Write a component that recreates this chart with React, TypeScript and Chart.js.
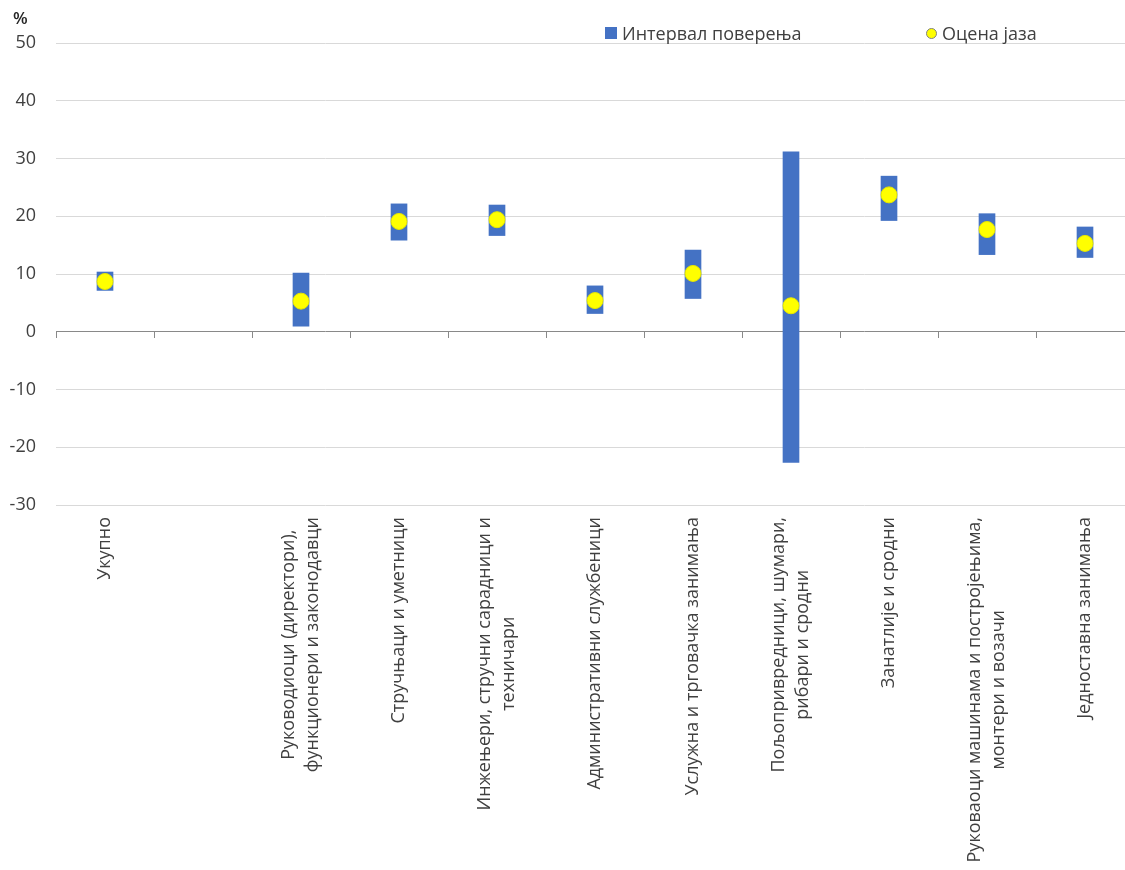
import React, { useEffect, useRef } from "react";
import { Chart, registerables } from "chart.js";

Chart.register(...registerables);

const categories: (string | string[])[] = [
  "Укупно",
  "",
  ["Руководиоци (директори),", "функционери и законодавци"],
  "Стручњаци и уметници",
  ["Инжењери, стручни сарадници и", "техничари"],
  "Административни службеници",
  "Услужна и трговачка занимања",
  ["Пољопривредници, шумари,", "рибари и сродни"],
  "Занатлије и сродни",
  ["Руковаоци машинама и постројењима,", "монтери и возачи"],
  "Једноставна занимања",
];

const intervalLow: (number | null)[] = [7.1, null, 0.9, 15.8, 16.6, 3.1, 5.7, -22.7, 19.2, 13.3, 12.8];
const intervalHigh: (number | null)[] = [10.4, null, 10.2, 22.2, 22.0, 8.0, 14.2, 31.2, 27.0, 20.5, 18.2];
const gapEstimate: (number | null)[] = [8.7, null, 5.3, 19.1, 19.4, 5.4, 10.1, 4.5, 23.7, 17.7, 15.3];

const yTicks = { min: -30, max: 50, step: 10 };

const seriesNames = ["Интервал поверења", "Оцена јаза"];

const FONT = '"Open Sans", "Noto Sans", sans-serif';
const TEXT = "#404040";

const labelPlugin = {
  id: "rotatedLabels",
  afterDraw(chart: any) {
    const xs = chart.scales.x;
    const ctx = chart.ctx;
    const lineH = 24;
    ctx.save();
    ctx.font = `18px ${FONT}`;
    ctx.fillStyle = TEXT;
    categories.forEach((lab, i) => {
      const lines = Array.isArray(lab) ? lab : [lab];
      if (!lines[0]) return;
      const W = Math.max(...lines.map((l) => ctx.measureText(l).width));
      const cx = xs.getPixelForValue(i);
      const n = lines.length;
      lines.forEach((line, j) => {
        const px = cx + (j - (n - 1) / 2) * lineH;
        const py = chart.chartArea.bottom + 12 + W / 2;
        ctx.save();
        ctx.translate(px, py);
        ctx.rotate(-Math.PI / 2);
        ctx.textAlign = "center";
        ctx.textBaseline = "middle";
        ctx.fillText(line, 0, 0);
        ctx.restore();
      });
    });
    ctx.restore();
  },
};

export default function App() {
  const ref = useRef<HTMLCanvasElement>(null);

  useEffect(() => {
    if (!ref.current) return;
    const labels = categories.map((_, i) => String(i));
    const chart = new Chart(ref.current, {
      type: "bar",
      data: {
        labels,
        datasets: [
          {
            type: "bar",
            label: seriesNames[0],
            data: intervalLow.map((lo, i) =>
              lo === null || intervalHigh[i] === null ? null : [lo, intervalHigh[i] as number]
            ) as any,
            backgroundColor: "#4472C4",
            borderWidth: 0,
            barPercentage: 0.17,
            categoryPercentage: 1,
            order: 1,
          },
          {
            type: "line",
            label: seriesNames[1],
            data: gapEstimate as any,
            showLine: false,
            pointRadius: 8,
            pointHoverRadius: 8,
            pointBackgroundColor: "#FFFF00",
            pointBorderColor: "#E6E600",
            pointBorderWidth: 1,
            order: 0,
          },
        ],
      },
      options: {
        responsive: true,
        maintainAspectRatio: false,
        animation: false,
        devicePixelRatio: 1,
        layout: { autoPadding: false, padding: { top: 43, left: 0, right: 0, bottom: 0 } },
        plugins: {
          legend: { display: false },
          tooltip: { enabled: false },
        },
        scales: {
          x: {
            type: "category",
            grid: { display: false },
            border: { display: false },
            ticks: { display: false },
            afterFit: (s: any) => {
              s.height = 365;
            },
          },
          x2: {
            type: "category",
            labels,
            position: { y: 0 } as any,
            grid: {
              offset: true,
              drawOnChartArea: false,
              drawTicks: true,
              tickLength: 6,
              color: "#898989",
            },
            border: { display: false },
            ticks: { display: false },
          },
          y: {
            min: yTicks.min,
            max: yTicks.max,
            ticks: {
              stepSize: yTicks.step,
              padding: 20,
              color: TEXT,
              font: { family: FONT, size: 18 },
            },
            grid: {
              drawTicks: false,
              color: (c: any) => (c.tick && c.tick.value === 0 ? "#898989" : "#D9D9D9"),
              lineWidth: 1,
            },
            border: { display: false },
            afterFit: (s: any) => {
              s.width = 56;
            },
          },
        },
      },
      plugins: [labelPlugin],
    });
    return () => chart.destroy();
  }, []);

  return (
    <div
      style={{
        position: "fixed",
        left: 0,
        top: 0,
        width: 1125,
        height: 870,
        overflow: "hidden",
        background: "#fff",
        fontFamily: FONT,
        color: TEXT,
      }}
    >
      <div style={{ position: "absolute", left: 0, top: 0, width: 1134, height: 870 }}>
        <canvas ref={ref} />
      </div>
      <div style={{ position: "absolute", left: 13, top: 6, fontSize: 17, color: "#262626", fontWeight: 600 }}>%</div>
      <div style={{ position: "absolute", left: 605, top: 21, height: 24, display: "flex", alignItems: "center" }}>
        <span style={{ width: 12, height: 12, background: "#4472C4", display: "inline-block", marginRight: 5 }} />
        <span style={{ fontSize: 18, lineHeight: "24px" }}>{seriesNames[0]}</span>
      </div>
      <div style={{ position: "absolute", left: 926, top: 21, height: 24, display: "flex", alignItems: "center" }}>
        <span
          style={{
            width: 9,
            height: 9,
            borderRadius: "50%",
            background: "#FFFF00",
            border: "1px solid #808080",
            display: "inline-block",
            marginRight: 5,
          }}
        />
        <span style={{ fontSize: 18, lineHeight: "24px" }}>{seriesNames[1]}</span>
      </div>
    </div>
  );
}
